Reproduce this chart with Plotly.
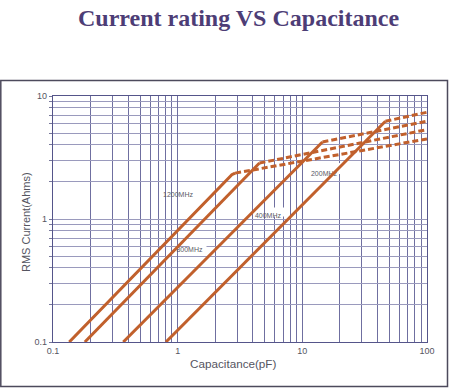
import plotly.graph_objects as go

# ---------------- data ----------------
freq_labels = ["1200MHz", "800MHz", "400MHz", "200MHz"]
# solid (linear-region) segments
solid_c_start = [0.135, 0.18, 0.366, 0.805]
solid_i_start = [0.1, 0.1, 0.1, 0.1]
solid_c_end = [2.72, 4.53, 14.5, 46.4]
solid_i_end = [2.29, 2.85, 4.23, 6.23]
# dashed (saturated) segments
dash_c_start = [2.89, 4.53, 14.5, 46.4]
dash_i_start = [2.36, 2.85, 4.23, 6.23]
dash_c_end = [100, 100, 100, 100]
dash_i_end = [4.48, 5.33, 6.23, 7.38]
# label anchor positions (data coordinates)
label_c = [1.006, 1.244, 5.30, 14.92]
label_i = [1.567, 0.552, 1.048, 2.32]

x_tick_vals = [0.1, 1, 10, 100]
x_tick_text = ["0.1", "1", "10", "100"]
y_tick_vals = [0.1, 1, 10]
y_tick_text = ["0.1", "1", "10"]

# ---------------- layout geometry ----------------
W, H = 451, 390
L, T = 53, 96
PW, PH = 374, 246
R, B = W - L - PW, H - T - PH


def px_x(px):  # window pixel -> paper x
    return (px - L) / PW


def px_y(py):  # window pixel -> paper y
    return 1 - (py - T) / PH


LINE_COLOR = "#c1602c"
FONT = "Liberation Sans, Arial, sans-serif"

fig = go.Figure()

# labels (text under the curves)
fig.add_trace(go.Scatter(
    x=label_c, y=label_i, mode="text", text=freq_labels,
    textfont=dict(family=FONT, size=7, color="#5a5a66"),
    textposition="middle center", hoverinfo="skip", showlegend=False,
))

for k in range(len(freq_labels)):
    fig.add_trace(go.Scatter(
        x=[solid_c_start[k], solid_c_end[k], dash_c_start[k]],
        y=[solid_i_start[k], solid_i_end[k], dash_i_start[k]],
        mode="lines", line=dict(color=LINE_COLOR, width=3),
        showlegend=False, hoverinfo="skip",
    ))
    fig.add_trace(go.Scatter(
        x=[dash_c_start[k], dash_c_end[k]],
        y=[dash_i_start[k], dash_i_end[k]],
        mode="lines", line=dict(color=LINE_COLOR, width=3, dash="6px,3px"),
        showlegend=False, hoverinfo="skip",
    ))

shapes = []
# white boxes behind labels (above grid, below traces)
box_half_w = [20, 17, 17, 20]
box_half_h = [9, 10, 9, 11]
for k in range(len(freq_labels)):
    shapes.append(dict(
        type="rect", layer="between", xref="x", yref="y",
        xsizemode="pixel", ysizemode="pixel",
        xanchor=label_c[k], yanchor=label_i[k],
        x0=-box_half_w[k], x1=box_half_w[k],
        y0=-box_half_h[k], y1=box_half_h[k],
        fillcolor="white", line=dict(width=0),
    ))
# outer frame
shapes.append(dict(
    type="rect", xref="paper", yref="paper", layer="above",
    x0=px_x(0.8), x1=px_x(447.5), y0=px_y(386.5), y1=px_y(80.5),
    line=dict(color="#4d4a5c", width=1.5), fillcolor="rgba(0,0,0,0)",
))

annotations = [
    dict(text="<b>Current rating VS Capacitance</b>", xref="paper", yref="paper",
         x=px_x(238.5), y=px_y(18), xanchor="center", yanchor="middle",
         showarrow=False,
         font=dict(family="Liberation Serif, Times New Roman, serif", size=24,
                   color="#4d3d76")),
    dict(text="Capacitance(pF)", xref="paper", yref="paper",
         x=px_x(233), y=px_y(363), xanchor="center", yanchor="middle",
         showarrow=False, font=dict(family=FONT, size=11.7, color="#55555f")),
    dict(text="RMS Current(Ahms)", xref="paper", yref="paper",
         x=px_x(26), y=px_y(222), xanchor="center", yanchor="middle",
         textangle=-90, showarrow=False,
         font=dict(family=FONT, size=11, color="#55555f")),
]

fig.update_layout(
    width=W, height=H,
    margin=dict(l=L, r=R, t=T, b=B, pad=0),
    paper_bgcolor="white", plot_bgcolor="white",
    shapes=shapes, annotations=annotations,
    showlegend=False,
)

fig.update_xaxes(
    type="log", range=[-1, 2],
    tickmode="array", tickvals=x_tick_vals, ticktext=x_tick_text,
    showgrid=True, gridcolor="#6f6fa0", gridwidth=1,
    minor=dict(dtick="D1", showgrid=True, gridcolor="#6f6fa0", gridwidth=1, ticks=""),
    ticks="", showline=True, linecolor="#55558a", linewidth=1.2, mirror=True,
    tickfont=dict(family=FONT, size=9, color="#55555f"),
    zeroline=False,
)
fig.update_yaxes(
    type="log", range=[-1, 1],
    tickmode="array", tickvals=y_tick_vals, ticktext=y_tick_text,
    showgrid=True, gridcolor="#9a9abd", gridwidth=1,
    minor=dict(dtick="D1", showgrid=True, gridcolor="#9a9abd", gridwidth=1,
               ticks="outside", ticklen=3, tickcolor="#77779a"),
    ticks="outside", ticklen=3, tickcolor="#77779a",
    showline=True, linecolor="#55558a", linewidth=1.2, mirror=True,
    tickfont=dict(family=FONT, size=9, color="#55555f"),
    zeroline=False,
)

fig.write_html(
    "out.html",
    config={"displayModeBar": False, "staticPlot": True},
    post_script="document.body.style.margin='0';document.body.style.overflow='hidden';",
)
